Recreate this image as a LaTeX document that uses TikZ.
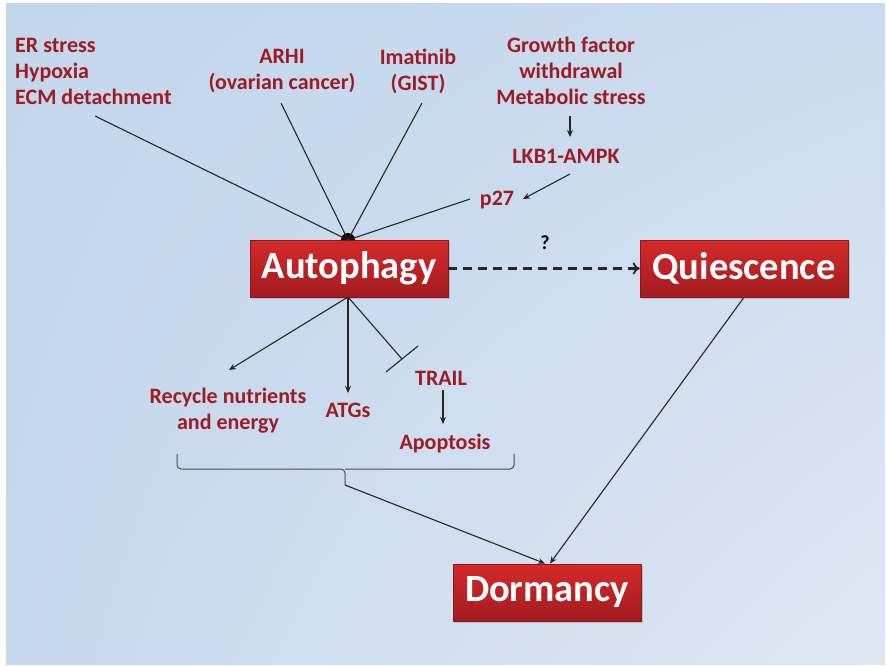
\documentclass[tikz,border=0pt]{standalone}
\usepackage{fontspec}
\setmainfont{Carlito}
\usetikzlibrary{arrows.meta,shadows,shadings}
\definecolor{txtred}{HTML}{9E1B22}
\definecolor{boxtop}{HTML}{D42A2A}
\definecolor{boxbot}{HTML}{A21B20}
\definecolor{boxline}{HTML}{8E1518}
\definecolor{bgA}{HTML}{C3D6EC}
\definecolor{bgB}{HTML}{CADBEF}
\definecolor{bgC}{HTML}{C6D8EE}
\definecolor{bgD}{HTML}{DFE7F3}
\tikzset{
  box/.style={draw=boxline, line width=0.6pt, top color=boxtop, bottom color=boxbot,
    text=white, font=\fontsize{38.5}{40}\selectfont\bfseries, inner sep=0pt,
    minimum height=57pt, drop shadow={shadow xshift=2pt, shadow yshift=-2pt, opacity=0.35}},
  lbl/.style={text=txtred, font=\fontsize{22}{26}\selectfont\bfseries, inner sep=0pt},
  conn/.style={line width=1.1pt, black!85},
  arr/.style={conn, -{Stealth[length=7pt,width=6pt]}},
}
\begin{document}
\begin{tikzpicture}[x=1pt,y=-1pt]
\useasboundingbox (0,0) rectangle (887,666);
\fill[white] (0,0) rectangle (887,666);
\shade[upper left=bgA, upper right=bgB, lower left=bgC, lower right=bgD] (6,4) rectangle (885,664);

% main boxes
\node[box, minimum width=198pt] (auto) at (349,268.5) {Autophagy};
\node[box, minimum width=208pt] (qui) at (744,268.5) {Quiescence};
\node[box, minimum width=188pt] (dorm) at (547,592.5) {Dormancy};

% upstream labels
\node[lbl, align=left, anchor=west] (er) at (15,71) {ER stress\\Hypoxia\\ECM detachment};
\node[lbl, align=center] (arhi) at (282,71) {ARHI\\(ovarian cancer)};
\node[lbl, align=center] (ima) at (418,71) {Imatinib\\(GIST)};
\node[lbl, align=center] (gf) at (571,71) {Growth factor\\withdrawal\\Metabolic stress};
\node[lbl] (lkb) at (566,156) {LKB1-AMPK};
\node[lbl] (p27) at (497,200) {p27};
\node[font=\fontsize{20}{20}\selectfont\bfseries] (q) at (545,243) {?};

% downstream labels
\node[lbl, align=center] (rec) at (228,410.5) {Recycle nutrients\\and energy};
\node[lbl] (atg) at (348,410) {ATGs};
\node[lbl] (trail) at (441,378) {TRAIL};
\node[lbl] (apo) at (445,444) {Apoptosis};

% convergence dot
\coordinate (dot) at (348,240);
\fill[black] (341,240) arc[start angle=180, end angle=0, radius=7pt] -- cycle;

% inputs to autophagy
\coordinate (erE) at (95,116);
\coordinate (arE) at (281,103);
\coordinate (imE) at (422,103);
\coordinate (p27E) at (470,199);
\draw[conn] (erE) -- (dot);
\draw[conn] (arE) -- (dot);
\draw[conn] (imE) -- (dot);
\draw[conn] (p27E) -- (dot);

% growth factor chain
\coordinate (gfA) at (570,116);
\coordinate (gfB) at (570,137);
\draw[arr] (gfA) -- (gfB);
\coordinate (lkA) at (570,174);
\coordinate (lkB) at (523,199);
\draw[arr] (lkA) -- (lkB);

% autophagy to quiescence
\draw[line width=2.2pt, black!85, dash pattern=on 9pt off 6pt, -{To[length=7pt,width=12pt,line width=1.8pt]}] (auto.east) -- (qui.west);

% autophagy outputs
\coordinate (abot) at (348,297);
\coordinate (recE) at (229,370);
\coordinate (atgE) at (348,393);
\draw[arr] (abot) -- (recE);
\draw[arr] (abot) -- (atgE);
\coordinate (tE) at (402,359);
\draw[conn] (abot) -- (tE);
\draw[conn] (386,372) -- (418,346);
\coordinate (trA) at (443,390);
\coordinate (trB) at (443,424);
\draw[arr] (trA) -- (trB);

% brace
\coordinate (brL) at (177,454);
\coordinate (brR) at (514,454);
\coordinate (brT) at (345,485);
\draw[line width=1pt, black!70, rounded corners=4pt] (brL) -- (177,469) -- (345,469) -- (brT);
\draw[line width=1pt, black!70, rounded corners=4pt] (brR) -- (514,469) -- (345,469);

% to dormancy
\draw[arr] (brT) -- (545,563.5);
\draw[arr] (qui.south) -- (550,563.5);
\end{tikzpicture}
\end{document}
